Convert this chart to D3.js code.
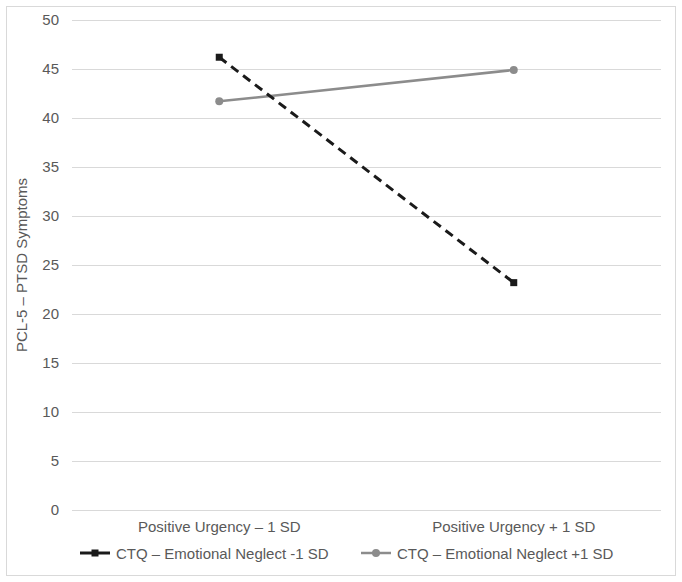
<!DOCTYPE html>
<html><head><meta charset="utf-8">
<script src="https://cdn.jsdelivr.net/npm/d3@7"></script>
<style>body{margin:0;background:#fff}text{font-family:"Liberation Sans",Arial,sans-serif}</style>
</head><body>
<svg id="c" width="682" height="582"></svg>
<script>
const categories = ["Positive Urgency – 1 SD", "Positive Urgency + 1 SD"];
const seriesNames = ["CTQ – Emotional Neglect -1 SD", "CTQ – Emotional Neglect +1 SD"];
const lowNeglect = [46.2, 23.2];
const highNeglect = [41.7, 44.9];
const yTicks = [0, 5, 10, 15, 20, 25, 30, 35, 40, 45, 50];

const svg = d3.select("#c");
svg.append("rect").attr("x", 6.5).attr("y", 6.5).attr("width", 669).attr("height", 569)
  .attr("fill", "#fff").attr("stroke", "#d9d9d9");

const L = 72, R = 661, T = 20, B = 510;
const x = d3.scaleBand().domain(categories).range([L, R]);
const y = d3.scaleLinear().domain([0, 50]).range([B, T]);

const yAxis = svg.append("g").attr("transform", `translate(${L},0)`)
  .call(d3.axisLeft(y).tickValues(yTicks).tickSize(-(R - L)).tickPadding(13));
yAxis.select(".domain").remove();
yAxis.selectAll("line").attr("stroke", "#d9d9d9");
yAxis.selectAll("text").attr("fill", "#595959").style("font-size", "15px");

const xAxis = svg.append("g").attr("transform", `translate(0,${B})`)
  .call(d3.axisBottom(x).tickSize(0).tickPadding(11));
xAxis.select(".domain").remove();
xAxis.selectAll("text").attr("fill", "#595959").style("font-size", "15px");

svg.append("text").attr("transform", `translate(27,${(T + B) / 2}) rotate(-90)`)
  .attr("text-anchor", "middle").attr("fill", "#595959").style("font-size", "15px")
  .text("PCL-5 – PTSD Symptoms");

const cx = c => x(c) + x.bandwidth() / 2;
const line = d3.line().x((d, i) => cx(categories[i])).y(d => y(d));

const series = [
  {name: seriesNames[0], values: lowNeglect, color: "#1a1a1a", dash: "9,6", width: 3, marker: "square"},
  {name: seriesNames[1], values: highNeglect, color: "#8c8c8c", dash: null, width: 2.5, marker: "circle"}
];

function drawMarker(g, s, px, py) {
  if (s.marker === "square") {
    g.append("rect").attr("x", px - 3.5).attr("y", py - 3.5).attr("width", 7).attr("height", 7).attr("fill", s.color);
  } else {
    g.append("circle").attr("cx", px).attr("cy", py).attr("r", 4).attr("fill", s.color);
  }
}

[series[1], series[0]].forEach(s => {
  svg.append("path").datum(s.values).attr("d", line).attr("fill", "none")
    .attr("stroke", s.color).attr("stroke-width", s.width).attr("stroke-dasharray", s.dash);
  const g = svg.append("g");
  s.values.forEach((v, i) => drawMarker(g, s, cx(categories[i]), y(v)));
});

// legend
const legendY = 553;
const legendX = [80, 361];
series.forEach((s, i) => {
  const g = svg.append("g");
  g.append("line").attr("x1", legendX[i]).attr("x2", legendX[i] + 30).attr("y1", legendY).attr("y2", legendY)
    .attr("stroke", s.color).attr("stroke-width", s.width);
  drawMarker(g, s, legendX[i] + 15, legendY);
  g.append("text").attr("x", legendX[i] + 36).attr("y", legendY + 5.5).attr("fill", "#595959")
    .style("font-size", "15px").text(s.name);
});
</script>
</body></html>
